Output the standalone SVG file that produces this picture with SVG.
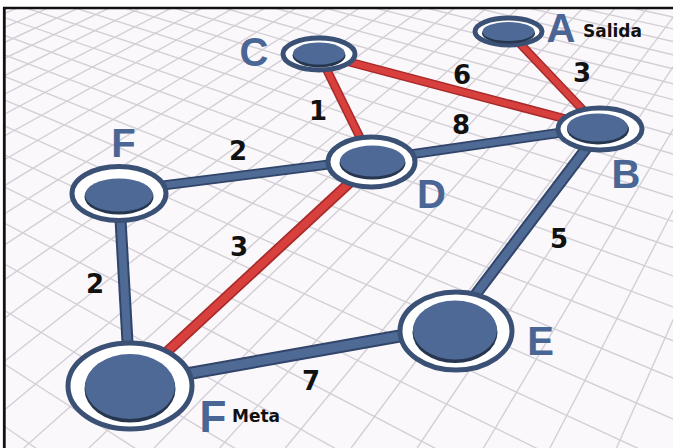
<svg xmlns="http://www.w3.org/2000/svg" width="673" height="448" viewBox="0 0 673 448">
<style>
.grid line{stroke:#d3cfd6;stroke-width:1.4}
.ring{fill:#ffffff;stroke:#3a5075;stroke-width:5}
.shade{fill:#26364f}
.disc{fill:#4e6995}
.bo{stroke:#31456a;stroke-linecap:butt}
.bi{stroke:#4f6a95;stroke-linecap:butt}
.ro{stroke:#a92a2a;stroke-linecap:butt}
.ri{stroke:#d8403d;stroke-linecap:butt}
.lbl{font-family:"Liberation Sans",Arial,sans-serif;font-weight:bold;font-size:40px;fill:#4a6694;text-anchor:middle}
.num{font-family:"DejaVu Sans",sans-serif;font-weight:bold;font-size:26px;fill:#111111;text-anchor:middle}
.sub{font-family:"DejaVu Sans",sans-serif;font-weight:bold;font-size:17px;fill:#111111}
</style>
<defs>
<clipPath id="frame"><rect x="4.3" y="8" width="670" height="442"/></clipPath>
</defs>
<rect x="0" y="0" width="673" height="448" fill="#ffffff"/>
<rect x="4.3" y="8" width="670" height="442" fill="#fbf8fb"/>
<g class="grid" clip-path="url(#frame)">
<line x1="814.4" y1="0" x2="616.5" y2="448"/>
<line x1="782.2" y1="0" x2="549.9" y2="448"/>
<line x1="750" y1="0" x2="483.4" y2="448"/>
<line x1="718" y1="0" x2="417.1" y2="448"/>
<line x1="686" y1="0" x2="351.1" y2="448"/>
<line x1="654.2" y1="0" x2="285.4" y2="448"/>
<line x1="622.4" y1="0" x2="219.6" y2="448"/>
<line x1="590.7" y1="0" x2="154.1" y2="448"/>
<line x1="559.2" y1="0" x2="88.9" y2="448"/>
<line x1="527.6" y1="0" x2="23.7" y2="448"/>
<line x1="496.2" y1="0" x2="-41.2" y2="448"/>
<line x1="464.8" y1="0" x2="-105.9" y2="448"/>
<line x1="433.7" y1="0" x2="-170.4" y2="448"/>
<line x1="402.5" y1="0" x2="-234.8" y2="448"/>
<line x1="371.4" y1="0" x2="-299.2" y2="448"/>
<line x1="340.4" y1="0" x2="-363.2" y2="448"/>
<line x1="309.5" y1="0" x2="-426.9" y2="448"/>
<line x1="278.7" y1="0" x2="-490.6" y2="448"/>
<line x1="248" y1="0" x2="-554.1" y2="448"/>
<line x1="217.3" y1="0" x2="-617.5" y2="448"/>
<line x1="186.9" y1="0" x2="-680.4" y2="448"/>
<line x1="156.4" y1="0" x2="-743.3" y2="448"/>
<line x1="126" y1="0" x2="-806.3" y2="448"/>
<line x1="95.8" y1="0" x2="-868.7" y2="448"/>
<line x1="65.6" y1="0" x2="-931.2" y2="448"/>
<line x1="35.5" y1="0" x2="-993.3" y2="448"/>
<line x1="5.4" y1="0" x2="-1055.6" y2="448"/>
<line x1="-24.5" y1="0" x2="-1117.3" y2="448"/>
<line x1="0" y1="423.2" x2="673" y2="893"/>
<line x1="0" y1="361.2" x2="673" y2="794.9"/>
<line x1="0" y1="307.8" x2="673" y2="710.3"/>
<line x1="0" y1="261.5" x2="673" y2="636.9"/>
<line x1="0" y1="220.9" x2="673" y2="572.5"/>
<line x1="0" y1="184.8" x2="673" y2="515.3"/>
<line x1="0" y1="152.8" x2="673" y2="464.6"/>
<line x1="0" y1="124" x2="673" y2="419"/>
<line x1="0" y1="98.2" x2="673" y2="378"/>
<line x1="0" y1="74.7" x2="673" y2="340.8"/>
<line x1="0" y1="53.3" x2="673" y2="306.9"/>
<line x1="0" y1="33.8" x2="673" y2="275.9"/>
<line x1="0" y1="16" x2="673" y2="247.6"/>
<line x1="0" y1="-0.6" x2="673" y2="221.4"/>
<line x1="0" y1="-15.8" x2="673" y2="197.3"/>
<line x1="0" y1="-30" x2="673" y2="174.9"/>
<line x1="0" y1="-43" x2="673" y2="154.1"/>
<line x1="0" y1="-55.2" x2="673" y2="134.8"/>
<line x1="0" y1="-66.7" x2="673" y2="116.6"/>
<line x1="0" y1="-77.4" x2="673" y2="99.6"/>
<line x1="0" y1="-87.4" x2="673" y2="83.8"/>
<line x1="0" y1="-96.9" x2="673" y2="68.8"/>
<line x1="0" y1="-105.7" x2="673" y2="54.8"/>
<line x1="0" y1="-114.1" x2="673" y2="41.5"/>
<line x1="0" y1="-122" x2="673" y2="28.9"/>
<line x1="0" y1="-129.5" x2="673" y2="17"/>
<line x1="0" y1="-136.7" x2="673" y2="5.7"/>
</g>
<g id="frame-lines" stroke="#111111">
<line x1="3" y1="8" x2="673" y2="8" stroke-width="2.5"/>
<line x1="4.3" y1="7" x2="4.3" y2="448" stroke-width="2.8"/>
</g>
<g id="connectors">
<line class="bo" x1="119" y1="191" x2="372" y2="159" stroke-width="10"/>
<line class="bi" x1="119" y1="191" x2="372" y2="159" stroke-width="6.5"/>
<line class="bo" x1="372" y1="160" x2="600" y2="127" stroke-width="10"/>
<line class="bi" x1="372" y1="160" x2="600" y2="127" stroke-width="6.5"/>
<line class="bo" x1="119" y1="193" x2="130" y2="386" stroke-width="12"/>
<line class="bi" x1="119" y1="193" x2="130" y2="386" stroke-width="8"/>
<line class="bo" x1="601" y1="129" x2="448" y2="331" stroke-width="12"/>
<line class="bi" x1="601" y1="129" x2="448" y2="331" stroke-width="8"/>
<line class="bo" x1="130" y1="384" x2="456" y2="326" stroke-width="13"/>
<line class="bi" x1="130" y1="384" x2="456" y2="326" stroke-width="9"/>
<line class="ro" x1="508" y1="31" x2="601" y2="129" stroke-width="9"/>
<line class="ri" x1="508" y1="31" x2="601" y2="129" stroke-width="6"/>
<line class="ro" x1="319" y1="54" x2="600" y2="128" stroke-width="9"/>
<line class="ri" x1="319" y1="54" x2="600" y2="128" stroke-width="6"/>
<line class="ro" x1="319" y1="54" x2="372" y2="162" stroke-width="9"/>
<line class="ri" x1="319" y1="54" x2="372" y2="162" stroke-width="6"/>
<line class="ro" x1="372" y1="162" x2="130" y2="386" stroke-width="11"/>
<line class="ri" x1="372" y1="162" x2="130" y2="386" stroke-width="7.5"/>
</g>
<g id="node-A">
<ellipse class="ring" cx="508.5" cy="31.5" rx="33.5" ry="13.5" stroke-width="4"/>
<ellipse class="shade" cx="508.5" cy="33.5" rx="26.5" ry="10"/>
<ellipse class="disc" cx="508.5" cy="31.5" rx="26" ry="9.5"/>
<text class="lbl" x="561" y="42">A</text>
<text class="sub" x="583" y="37">Salida</text>
</g>
<g id="node-C">
<ellipse class="ring" cx="319" cy="54" rx="36" ry="16" stroke-width="4"/>
<ellipse class="shade" cx="319" cy="55.5" rx="26.5" ry="12"/>
<ellipse class="disc" cx="319" cy="53.5" rx="26" ry="11"/>
<text class="lbl" x="254" y="66">C</text>
</g>
<g id="node-B">
<ellipse class="ring" cx="600" cy="129" rx="42" ry="21" stroke-width="4.5"/>
<ellipse class="shade" cx="598" cy="129.5" rx="31" ry="15"/>
<ellipse class="disc" cx="597.5" cy="127.5" rx="30.5" ry="14"/>
<text class="lbl" x="626" y="188">B</text>
</g>
<g id="node-D">
<ellipse class="ring" cx="371.5" cy="162" rx="43.5" ry="25" stroke-width="4.5"/>
<ellipse class="shade" cx="372.5" cy="163" rx="33" ry="16.5"/>
<ellipse class="disc" cx="372.5" cy="161" rx="32.5" ry="15.5"/>
<text class="lbl" x="431.5" y="208">D</text>
</g>
<g id="node-F-top">
<ellipse class="ring" cx="119" cy="193.5" rx="47" ry="27" stroke-width="5"/>
<ellipse class="shade" cx="119" cy="197" rx="34.5" ry="17.5"/>
<ellipse class="disc" cx="119" cy="195" rx="34" ry="16.5"/>
<text class="lbl" x="123.5" y="157">F</text>
</g>
<g id="node-E">
<ellipse class="ring" cx="456" cy="331" rx="56" ry="39" stroke-width="5.5"/>
<ellipse class="shade" cx="455" cy="332.5" rx="42.5" ry="30.5"/>
<ellipse class="disc" cx="455" cy="330" rx="42" ry="29.5"/>
<text class="lbl" x="540.5" y="355">E</text>
</g>
<g id="node-F-meta">
<ellipse class="ring" cx="130" cy="386" rx="62" ry="43" stroke-width="6"/>
<ellipse class="shade" cx="130" cy="389" rx="45.5" ry="33.5"/>
<ellipse class="disc" cx="130" cy="386.5" rx="45" ry="32.5"/>
<text class="lbl" x="213" y="432" style="font-size:44px">F</text>
<text class="sub" x="232" y="422">Meta</text>
</g>
<g id="edge-labels">
<text class="num" x="462" y="84">6</text>
<text class="num" x="582" y="82">3</text>
<text class="num" x="318" y="120">1</text>
<text class="num" x="461" y="134">8</text>
<text class="num" x="238" y="160">2</text>
<text class="num" x="239" y="256">3</text>
<text class="num" x="559" y="248">5</text>
<text class="num" x="95" y="293">2</text>
<text class="num" x="311" y="390">7</text>
</g>
</svg>
